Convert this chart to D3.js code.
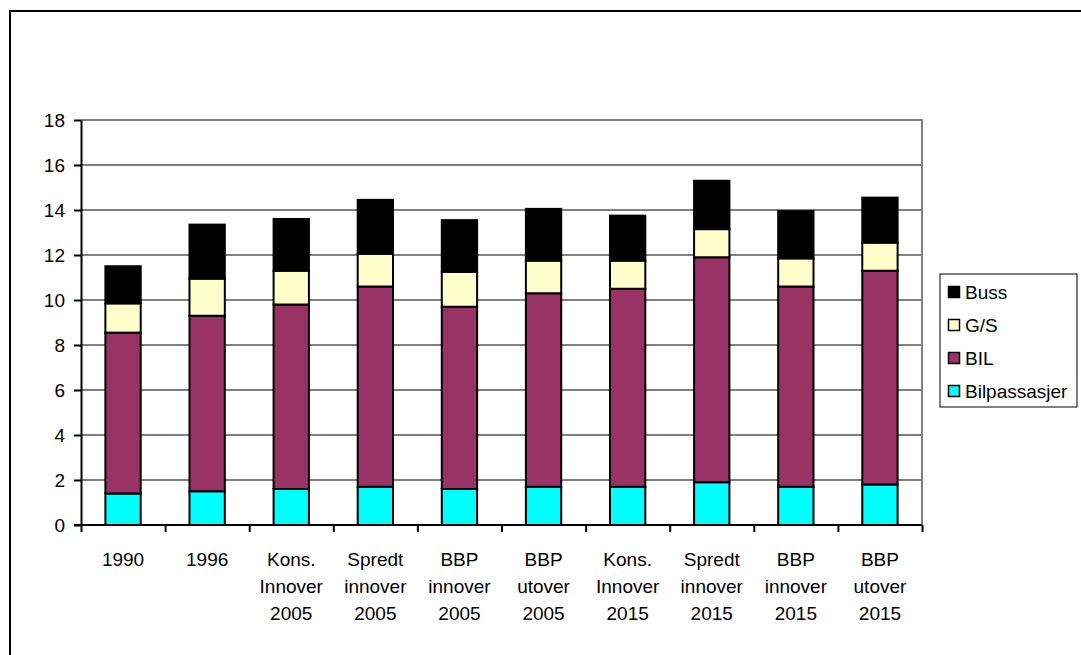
<!DOCTYPE html>
<html>
<head>
<meta charset="utf-8">
<script src="https://cdn.jsdelivr.net/npm/d3@7"></script>
<style>
  body { margin: 0; background: #fff; }
  svg { display: block; font-family: Arial, "Liberation Sans", sans-serif; }
</style>
</head>
<body>
<div class="chart"></div>
<script>
// categories (x labels, "\n" = line break)
let categories = [
    "1990", "1996", "Kons.\nInnover\n2005", "Spredt\ninnover\n2005",
    "BBP\ninnover\n2005", "BBP\nutover\n2005", "Kons.\nInnover\n2015",
    "Spredt\ninnover\n2015", "BBP\ninnover\n2015", "BBP\nutover\n2015"
]

// series, bottom to top
let bilpassasjer = [1.4, 1.5, 1.6, 1.7, 1.6, 1.7, 1.7, 1.9, 1.7, 1.8]
let bil          = [7.15, 7.8, 8.2, 8.9, 8.1, 8.6, 8.8, 10.0, 8.9, 9.5]
let gs           = [1.3, 1.65, 1.5, 1.45, 1.55, 1.45, 1.25, 1.25, 1.25, 1.25]
let buss         = [1.65, 2.4, 2.3, 2.4, 2.3, 2.3, 2.0, 2.15, 2.1, 2.0]

let series_names = ["Bilpassasjer", "BIL", "G/S", "Buss"]
let series_colors = ["#00ffff", "#993366", "#ffffcc", "#000000"]
let y_ticks = [0, 2, 4, 6, 8, 10, 12, 14, 16, 18]

let width = 1081
let height = 655
let plot = {left: 81, right: 922, top: 120, bottom: 525}

let svg = d3.select(".chart")
    .append("svg")
        .attr("width", width)
        .attr("height", height)

// outer chart border (runs off the picture on the right and bottom)
svg.append("rect")
    .attr("x", 10)
    .attr("y", 11)
    .attr("width", 1200)
    .attr("height", 800)
    .attr("fill", "none")
    .attr("stroke", "#000")
    .attr("stroke-width", 2)

let x = d3.scaleBand()
    .domain(categories)
    .range([plot.left, plot.right])
    .paddingInner(0.58)
    .paddingOuter(0.29)

let x_edges = d3.scaleLinear().domain([0, categories.length]).range([plot.left, plot.right])

let y = d3.scaleLinear().domain([0, 18]).range([plot.bottom, plot.top])

// gridlines
svg.append("g")
    .selectAll("line")
    .data(y_ticks.filter(d => d > 0 && d < 18))
    .enter()
    .append("line")
        .attr("x1", plot.left)
        .attr("x2", plot.right)
        .attr("y1", d => y(d))
        .attr("y2", d => y(d))
        .attr("stroke", "#000")
        .attr("stroke-width", 1)

// plot border (top & right in gray)
svg.append("path")
    .attr("d", "M" + plot.left + "," + y(18) + "H" + plot.right + "V" + plot.bottom)
    .attr("fill", "none")
    .attr("stroke", "#808080")
    .attr("stroke-width", 2)

// stacked bars
let rows = categories.map((c, i) => ({
    cat: c,
    "Bilpassasjer": bilpassasjer[i],
    "BIL": bil[i],
    "G/S": gs[i],
    "Buss": buss[i]
}))
let stacked = d3.stack().keys(series_names)(rows)

svg.append("g")
    .selectAll("g")
    .data(stacked)
    .enter()
    .append("g")
        .attr("fill", (d, i) => series_colors[i])
    .selectAll("rect")
    .data(d => d)
    .enter()
    .append("rect")
        .attr("x", d => x(d.data.cat))
        .attr("width", x.bandwidth())
        .attr("y", d => y(d[1]))
        .attr("height", d => y(d[0]) - y(d[1]))
        .attr("stroke", "#000")
        .attr("stroke-width", 2)

// y axis
let y_axis = svg.append("g")
    .attr("transform", "translate(" + plot.left + ",0)")
    .call(d3.axisLeft(y).tickValues(y_ticks).tickSize(7).tickPadding(9).tickSizeOuter(0))
y_axis.select(".domain").attr("stroke", "#000").attr("stroke-width", 2)
y_axis.selectAll(".tick line").attr("stroke", "#000").attr("stroke-width", 2)
y_axis.selectAll("text")
    .attr("font-size", 19)
    .attr("font-family", "Arial, 'Liberation Sans', sans-serif")
    .attr("fill", "#000")

// x axis (ticks between categories)
let x_axis = svg.append("g")
    .attr("transform", "translate(0," + plot.bottom + ")")
    .call(d3.axisBottom(x_edges).tickValues(d3.range(categories.length + 1)).tickSize(7).tickFormat("").tickSizeOuter(0))
x_axis.select(".domain").attr("stroke", "#000").attr("stroke-width", 2)
    .attr("d", "M" + (plot.left - 7) + ",0H" + plot.right)
x_axis.selectAll(".tick line").attr("stroke", "#000").attr("stroke-width", 2)

let x_labels = svg.append("g")
    .selectAll("text")
    .data(categories)
    .enter()
    .append("text")
        .attr("text-anchor", "middle")
        .attr("font-size", 19)
        .attr("fill", "#000")
        .attr("transform", d => "translate(" + (x(d) + x.bandwidth() / 2) + ",566)")

x_labels.selectAll("tspan")
    .data(d => d.split("\n"))
    .enter()
    .append("tspan")
        .attr("x", 0)
        .attr("y", (d, i) => i * 26.8)
        .text(d => d)

// legend
let legend = svg.append("g").attr("transform", "translate(940,274)")
legend.append("rect")
    .attr("width", 137)
    .attr("height", 133)
    .attr("fill", "#fff")
    .attr("stroke", "#000")
    .attr("stroke-width", 1)

let legend_items = series_names.slice().reverse()
let legend_colors = series_colors.slice().reverse()

let item = legend.selectAll(".item")
    .data(legend_items)
    .enter()
    .append("g")
        .attr("class", "item")
        .attr("transform", (d, i) => "translate(0," + (18 + i * 33) + ")")

item.append("rect")
    .attr("x", 8.5)
    .attr("y", -5.5)
    .attr("width", 11)
    .attr("height", 11)
    .attr("fill", (d, i) => legend_colors[i])
    .attr("stroke", "#000")
    .attr("stroke-width", 1.5)

item.append("text")
    .attr("x", 25)
    .attr("y", 7)
    .attr("font-size", 19)
    .attr("fill", "#000")
    .text(d => d)
</script>
</body>
</html>
